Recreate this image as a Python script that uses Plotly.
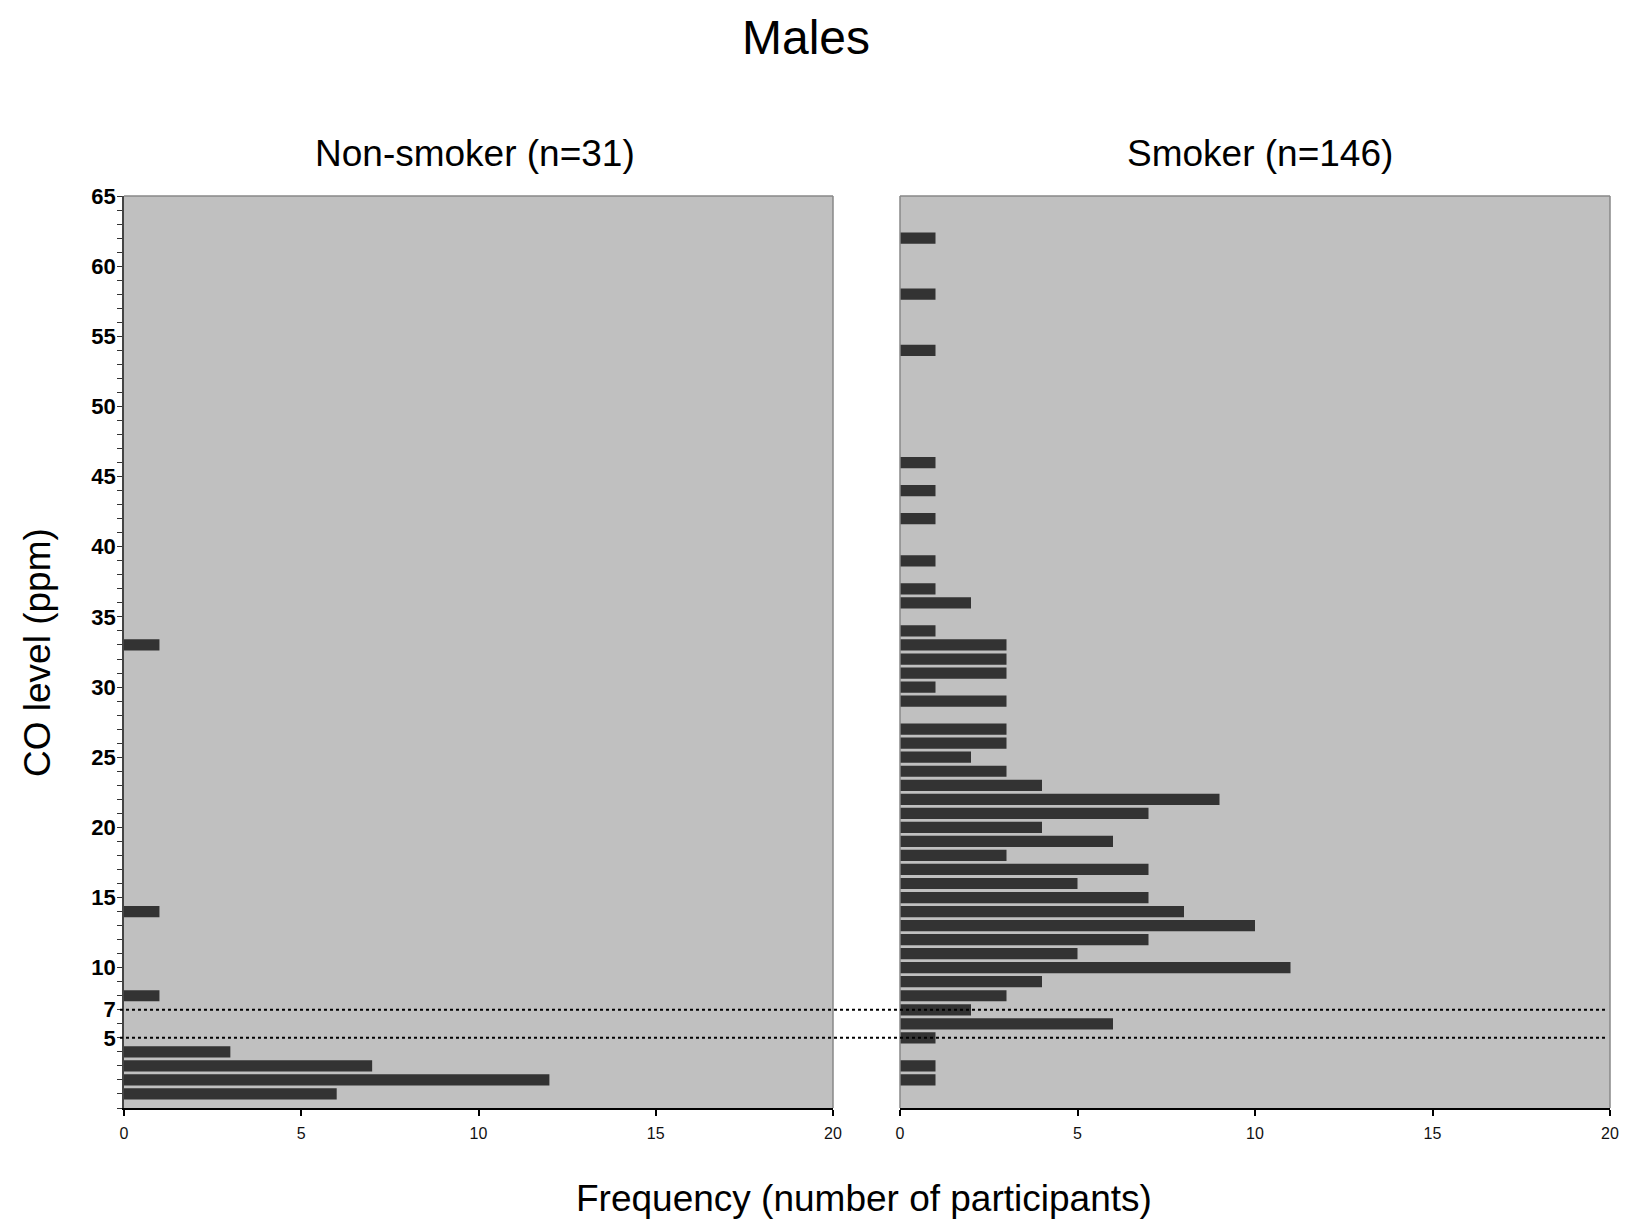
import plotly.graph_objects as go

# ---- data ----
nonsmoker_co = [1, 2, 3, 4, 8, 14, 33]
nonsmoker_count = [6, 12, 7, 3, 1, 1, 1]

smoker_co = [2, 3, 5, 6, 7, 8, 9, 10, 11, 12, 13, 14, 15, 16, 17, 18, 19, 20,
             21, 22, 23, 24, 25, 26, 27, 29, 30, 31, 32, 33, 34, 36, 37, 39,
             42, 44, 46, 54, 58, 62]
smoker_count = [1, 1, 1, 6, 2, 3, 4, 11, 5, 7, 10, 8, 7, 5, 7, 3, 6, 4,
                7, 9, 4, 3, 2, 3, 3, 3, 1, 3, 3, 3, 1, 2, 1, 1,
                1, 1, 1, 1, 1, 1]

y_label_vals = [5, 7, 10, 15, 20, 25, 30, 35, 40, 45, 50, 55, 60, 65]
x_tick_vals = [0, 5, 10, 15, 20]
cutoff_lines = [5, 7]

title_text = "Males"
panel_titles = ["Non-smoker (n=31)", "Smoker (n=146)"]
y_title = "CO level (ppm)"
x_title = "Frequency (number of participants)"

# ---- layout geometry ----
W, H = 1626, 1223
FONT = "Liberation Sans, Arial, Helvetica, sans-serif"
BAR = "#333333"
BG = "#c0c0c0"
BORDER = "#888888"

xd1 = [124 / W, 833 / W]
xd2 = [900 / W, 1610 / W]
yd = [(H - 1108) / H, (H - 196) / H]

y_tickvals = list(range(0, 66))
y_ticktext = [str(v) if v in y_label_vals else "" for v in y_tickvals]

fig = go.Figure()
fig.add_trace(go.Bar(x=nonsmoker_count, y=nonsmoker_co, orientation="h",
                     marker=dict(color=BAR, line=dict(width=0)), width=0.8,
                     xaxis="x", yaxis="y", showlegend=False))
fig.add_trace(go.Bar(x=smoker_count, y=smoker_co, orientation="h",
                     marker=dict(color=BAR, line=dict(width=0)), width=0.8,
                     xaxis="x2", yaxis="y2", showlegend=False))

xaxis_common = dict(range=[0, 20], tickvals=x_tick_vals, ticks="outside", ticklen=6,
                    tickwidth=1.5, tickcolor="#000", showline=True, linecolor="#000",
                    linewidth=1.5, showgrid=False, zeroline=False, automargin=False,
                    tickfont=dict(family=FONT, size=16, color="#111"),
                    ticklabelstandoff=4, fixedrange=True)

fig.update_layout(
    template="none",
    width=W, height=H,
    margin=dict(l=0, r=0, t=0, b=0, pad=0, autoexpand=False),
    paper_bgcolor="white",
    plot_bgcolor=BG,
    font=dict(family=FONT, color="#000"),
    xaxis=dict(domain=xd1, anchor="y", **xaxis_common),
    xaxis2=dict(domain=xd2, anchor="y2", **xaxis_common),
    yaxis=dict(domain=yd, anchor="x", range=[0, 65], tickvals=y_tickvals,
               ticktext=y_ticktext, ticks="outside", ticklen=5, tickwidth=1.2,
               tickcolor="#333", showline=True, linecolor="#444", linewidth=1.5,
               showgrid=False, zeroline=False, automargin=False,
               tickfont=dict(family=FONT, size=22, color="#000", weight="bold"),
               ticklabelstandoff=-3, fixedrange=True),
    yaxis2=dict(domain=yd, anchor="x2", range=[0, 65], showticklabels=False,
                ticks="", showline=False, showgrid=False, zeroline=False,
                automargin=False, fixedrange=True),
    bargap=0.2,
)

shapes = []
# grey panel borders (top, right, and left for the right panel)
for xr, yr in (("x domain", "y domain"), ("x2 domain", "y2 domain")):
    shapes.append(dict(type="line", xref=xr, yref=yr, x0=0, x1=1, y0=1, y1=1,
                       line=dict(color=BORDER, width=1.5), layer="above"))
    shapes.append(dict(type="line", xref=xr, yref=yr, x0=1, x1=1, y0=0, y1=1,
                       line=dict(color=BORDER, width=1.5), layer="above"))
shapes.append(dict(type="line", xref="x2 domain", yref="y2 domain", x0=0, x1=0, y0=0, y1=1,
                   line=dict(color=BORDER, width=1.5), layer="above"))
# dotted cutoff lines spanning both panels
for v in cutoff_lines:
    shapes.append(dict(type="line", xref="paper", yref="y", x0=120 / W, x1=1606 / W,
                       y0=v, y1=v, line=dict(color="#000", width=2, dash="dot"),
                       layer="above"))
fig.update_layout(shapes=shapes)

annotations = [
    dict(text=title_text, x=806 / W, y=1 - 38 / H, xref="paper", yref="paper",
         showarrow=False, xanchor="center", yanchor="middle",
         font=dict(family=FONT, size=48, color="#000")),
    dict(text=panel_titles[0], x=475 / W, y=1 - 153 / H, xref="paper",
         yref="paper", showarrow=False, xanchor="center", yanchor="middle",
         font=dict(family=FONT, size=37, color="#000")),
    dict(text=panel_titles[1], x=1260 / W, y=1 - 153 / H, xref="paper",
         yref="paper", showarrow=False, xanchor="center", yanchor="middle",
         font=dict(family=FONT, size=37, color="#000")),
    dict(text=y_title, x=37 / W, y=1 - 653 / H, xref="paper", yref="paper",
         showarrow=False, xanchor="center", yanchor="middle", textangle=-90,
         font=dict(family=FONT, size=37, color="#000")),
    dict(text=x_title, x=864 / W, y=1 - 1198 / H, xref="paper", yref="paper",
         showarrow=False, xanchor="center", yanchor="middle",
         font=dict(family=FONT, size=37, color="#000")),
]
fig.update_layout(annotations=annotations)

fig.write_html("out.html", config={"displayModeBar": False},
               post_script="document.body.style.margin='0px';")
